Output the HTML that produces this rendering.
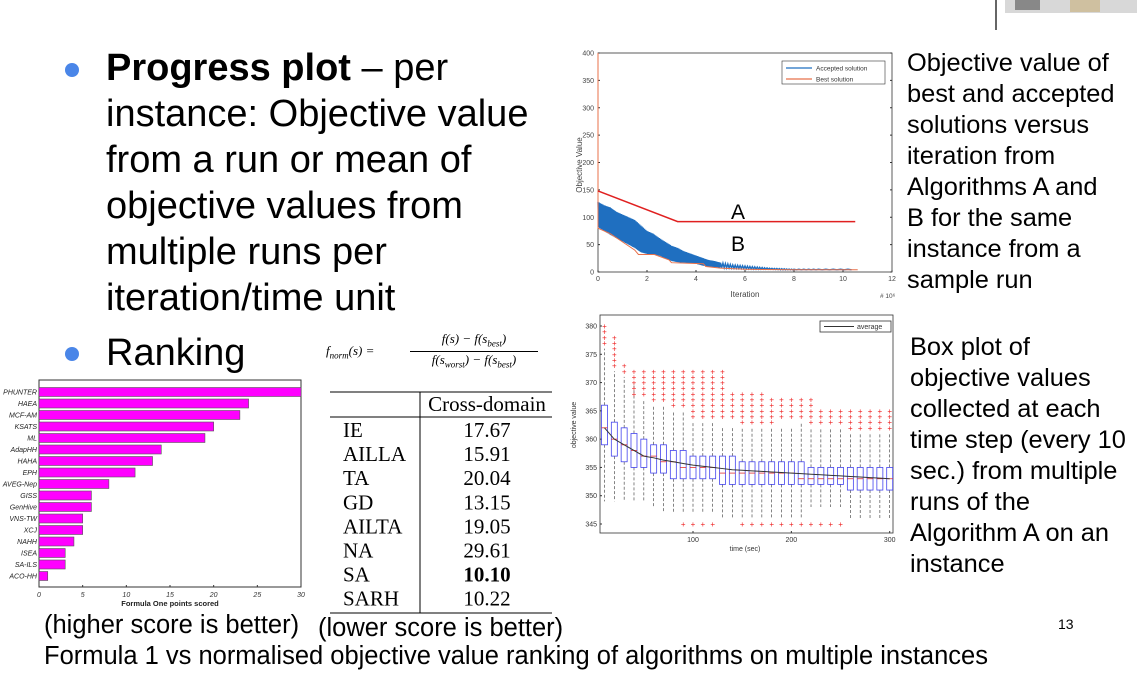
<!DOCTYPE html>
<html><head><meta charset="utf-8">
<style>
body{margin:0;width:1137px;height:681px;background:#fff;overflow:hidden;position:relative;font-family:"Liberation Sans",sans-serif;}
.t{position:absolute;white-space:nowrap;color:#000;}
.big{font-size:38px;line-height:46px;left:106px;}
.rt{font-size:25.4px;line-height:31px;}
svg{position:absolute;left:0;top:0;}
</style></head><body>
<svg width="1137" height="681" id="svg">
  <line x1="996" y1="0" x2="996" y2="30" stroke="#333" stroke-width="1.5"/>
  <rect x="1005" y="0" width="132" height="13" fill="#d8d8d8"/>
  <rect x="1070" y="0" width="30" height="12" fill="#cfc0a0"/>
  <rect x="1015" y="0" width="25" height="10" fill="#888"/>
  <circle cx="72" cy="70" r="7" fill="#4a86e8"/>
  <circle cx="72" cy="354" r="7" fill="#4a86e8"/>
  <g id="bar"></g>
  <g id="prog"></g>
  <g id="box"></g>
  <g id="tbl" font-family="Liberation Serif, serif" font-size="21">
    <line x1="330" y1="392" x2="552" y2="392" stroke="#000"/>
    <line x1="330" y1="417" x2="552" y2="417" stroke="#000"/>
    <line x1="330" y1="613" x2="552" y2="613" stroke="#000"/>
    <line x1="420" y1="392" x2="420" y2="613" stroke="#000"/>
    <text x="487" y="411" text-anchor="middle">Cross-domain</text>
  </g>
</svg>

<div class="t big" style="top:45px"><b>Progress plot</b> – per<br>instance: Objective value<br>from a run or mean of<br>objective values from<br>multiple runs per<br>iteration/time unit</div>
<div class="t big" style="top:330px">Ranking</div>
<div class="t rt" style="left:907px;top:48px">Objective value of<br>best and accepted<br>solutions versus<br>iteration from<br>Algorithms A and<br>B for the same<br>instance from a<br>sample run</div>
<div class="t rt" style="left:910px;top:332px">Box plot of<br>objective values<br>collected at each<br>time step (every 10<br>sec.) from multiple<br>runs of the<br>Algorithm A on an<br>instance</div>
<div class="t" style="left:326px;top:331px;font-family:'Liberation Serif',serif;font-style:italic;font-size:13px">
 <span style="position:absolute;left:0;top:12px">f<sub style="font-size:9px">norm</sub>(s) =</span>
 <span style="position:absolute;left:84px;top:0;width:128px;text-align:center;border-bottom:1px solid #000;padding-bottom:2px">f(s) − f(s<sub style="font-size:9px">best</sub>)</span>
 <span style="position:absolute;left:84px;top:21px;width:128px;text-align:center">f(s<sub style="font-size:9px">worst</sub>) − f(s<sub style="font-size:9px">best</sub>)</span>
</div>
<div class="t" style="left:44px;top:611px;font-size:25.5px">(higher score is better)</div>
<div class="t" style="left:318px;top:614px;font-size:25.5px">(lower score is better)</div>
<div class="t" style="left:44px;top:642px;font-size:25.5px">Formula 1 vs normalised objective value ranking of algorithms on multiple instances</div>
<div class="t" style="left:1058px;top:616px;font-size:14px">13</div>

<script>
const NS="http://www.w3.org/2000/svg";
function mk(p,tag,a,txt){const e=document.createElementNS(NS,tag);for(const k in a)e.setAttribute(k,a[k]);if(txt!=null)e.textContent=txt;p.appendChild(e);return e;}

// ---------- Bar chart ----------
const barCats=["PHUNTER","HAEA","MCF-AM","KSATS","ML","AdapHH","HAHA","EPH","AVEG-Nep","GISS","GenHive","VNS-TW","XCJ","NAHH","ISEA","SA-ILS","ACO-HH"];
const barVals=[30,24,23,20,19,14,13,11,8,6,6,5,5,4,3,3,1];
const barTicks=[0,5,10,15,20,25,30];
(function(){
 const g=document.getElementById('bar');
 const x0=39,x1=301,top=380,bot=587;
 const sx=v=>x0+(x1-x0)*v/30;
 const step=(576-392)/(barCats.length-1);
 mk(g,'rect',{x:x0,y:top,width:x1-x0,height:bot-top,fill:'#fff',stroke:'#333','stroke-width':1});
 barCats.forEach((c,i)=>{
  const cy=392+i*step;
  const r=mk(g,'rect',{x:x0,y:cy-4.5,width:sx(barVals[i])-x0,height:9,fill:'#ff00ff',stroke:'#555','stroke-width':0.6});
  
  
  mk(g,'text',{x:x0-2,y:cy+2.5,'text-anchor':'end','font-size':7,'font-style':'italic',fill:'#222'},c);
 });
 barTicks.forEach(t=>{mk(g,'text',{x:sx(t),y:597,'text-anchor':'middle','font-size':7,'font-style':'italic',fill:'#333'},t);
  mk(g,'line',{x1:sx(t),y1:bot,x2:sx(t),y2:bot-2,stroke:'#333'});});
 mk(g,'text',{x:170,y:606,'text-anchor':'middle','font-size':7.5,'font-weight':'bold',fill:'#222'},'Formula One points scored');
})();

// ---------- Progress plot ----------
const progTicksX=[0,2,4,6,8,10,12];
const progTicksY=[0,50,100,150,200,250,300,350,400];
const accX=[0,0.25,0.5,0.75,1,1.25,1.5,1.75,2,2.25,2.5,2.75,3,3.25,3.5,3.75,4,4.25,4.5,4.75,5,5.5,6,6.5,7,7.5,8,9,10.5];
const accHi=[128,122,118,110,105,100,95,85,75,70,62,55,48,44,38,34,30,26,22,20,17,13,11,9,7,6,5,5,5];
const accLo=[82,75,68,62,56,50,44,36,33,32,30,25,20,18,17,16,15,12,10,9,8,7,6,5,5,4,4,4,4];
const bestX=[0,0,0.5,1,1.5,1.65,2.3,2.9,3.0,4.3,4.4,5.0,6.0,8.0,10.6];
const bestY=[400,80,70,55,40,32,32,22,17,15,10,7,5,4,4];
const aX=[0,3.25,10.5];
const aY=[148,92,92];
(function(){
 const g=document.getElementById('prog');
 const x0=598,x1=892,y0=272,y1=53;
 const sx=v=>x0+(x1-x0)*v/12, sy=v=>y0-(y0-y1)*v/400;
 mk(g,'rect',{x:x0,y:y1,width:x1-x0,height:y0-y1,fill:'#fff',stroke:'#333','stroke-width':0.8});
 progTicksX.forEach(t=>{mk(g,'text',{x:sx(t),y:y0+9,'text-anchor':'middle','font-size':7,fill:'#444'},t);
   mk(g,'line',{x1:sx(t),y1:y0,x2:sx(t),y2:y0-2,stroke:'#333'});});
 progTicksY.forEach(t=>{mk(g,'text',{x:x0-4,y:sy(t)+2.5,'text-anchor':'end','font-size':7,fill:'#444'},t);
   mk(g,'line',{x1:x0,y1:sy(t),x2:x0+2,y2:sy(t),stroke:'#333'});mk(g,'line',{x1:x1,y1:sy(t),x2:x1-2,y2:sy(t),stroke:'#333'});});
 mk(g,'text',{x:745,y:297,'text-anchor':'middle','font-size':8,fill:'#444'},'Iteration');
 mk(g,'text',{x:880,y:298,'font-size':6.5,fill:'#444'},'# 10⁶');
 mk(g,'text',{x:582,y:165,'text-anchor':'middle','font-size':8,fill:'#444',transform:'rotate(-90 582 165)'},'Objective Value');
 let pts=[];
 for(let i=0;i<accX.length-1;i++){
  const n=10;
  for(let k=0;k<n;k++){const f=k/n;const x=accX[i]+(accX[i+1]-accX[i])*f;
   const hi=accHi[i]+(accHi[i+1]-accHi[i])*f, lo=accLo[i]+(accLo[i+1]-accLo[i])*f;
   pts.push(sx(x)+','+sy(k%2?lo:hi));}
 }
 const acc=mk(g,'polyline',{points:pts.join(' '),fill:'none',stroke:'#1f6fc0','stroke-width':1.4});
 
 
 const best=mk(g,'polyline',{points:bestX.map((x,i)=>sx(x)+','+sy(bestY[i])).join(' '),fill:'none',stroke:'#e8704a','stroke-width':1});
 
 
 const a=mk(g,'polyline',{points:aX.map((x,i)=>sx(x)+','+sy(aY[i])).join(' '),fill:'none',stroke:'#e02020','stroke-width':1.5});
 
 
 mk(g,'text',{x:738,y:219,'text-anchor':'middle','font-size':21},'A');
 mk(g,'text',{x:738,y:251,'text-anchor':'middle','font-size':21},'B');
 const lg=mk(g,'g',{});
 
 
 mk(lg,'rect',{x:782,y:61,width:103,height:23,fill:'#fff',stroke:'#333','stroke-width':0.6});
 mk(lg,'line',{x1:786,y1:68,x2:812,y2:68,stroke:'#1f6fc0','stroke-width':1.2});
 mk(lg,'line',{x1:786,y1:79,x2:812,y2:79,stroke:'#e8704a','stroke-width':1.2});
 mk(lg,'text',{x:816,y:70.5,'font-size':6.5,fill:'#333'},'Accepted solution');
 mk(lg,'text',{x:816,y:81.5,'font-size':6.5,fill:'#333'},'Best solution');
})();

// ---------- Box plot ----------
const boxT=[10,20,30,40,50,60,70,80,90,100,110,120,130,140,150,160,170,180,190,200,210,220,230,240,250,260,270,280,290,300];
const boxQ1=[359,357,356,355,355,354,354,353,353,353,353,353,352,352,352,352,352,352,352,352,352,352,352,352,352,351,351,351,351,351];
const boxQ3=[366,363,362,361,360,359,359,358,358,357,357,357,357,357,356,356,356,356,356,356,356,355,355,355,355,355,355,355,355,355];
const boxMed=[362,360,359,358,357,357,356,356,355,355,355,355,354,354,354,354,354,354,354,354,353,353,353,353,353,353,353,353,353,353];
const whLo=[349,349,349,349,349,348,347,347,347,347,347,347,346,346,346,346,346,346,346,346,346,348,348,348,348,346,346,346,346,346];
const whHi=[376,372,371,370,367,366,366,365,365,363,363,363,362,362,362,362,362,362,362,362,363,362,362,362,362,361,361,361,361,361];
const outHiMin=[377,373,372,368,368,367,367,366,366,364,364,364,364,364,363,363,363,363,364,364,364,363,363,363,363,362,362,362,362,362];
const outHiMax=[380,378,373,372,372,372,372,372,372,372,372,372,372,368,368,368,368,367,367,367,367,367,365,365,365,365,365,365,365,365];
const outLo=[0,0,0,0,0,0,0,0,345,345,345,345,0,0,345,345,345,345,345,345,345,345,345,345,345,0,0,0,0,0];
const avgVals=[362,360,359,358,357,356.7,356.3,356,355.7,355.4,355.2,355,354.8,354.6,354.5,354.4,354.3,354.2,354.1,354,353.9,353.8,353.7,353.6,353.5,353.4,353.3,353.2,353.1,353];
const boxTicksX=[100,200,300];
const boxTicksY=[345,350,355,360,365,370,375,380];
(function(){
 const g=document.getElementById('box');
 const L=600,R=893,T=315,B=533;
 const sx=v=>693+(v-100)*0.9835, sy=v=>326+(380-v)*(524-326)/35;
 mk(g,'rect',{x:L,y:T,width:R-L,height:B-T,fill:'#fff',stroke:'#333','stroke-width':0.8});
 boxTicksX.forEach(t=>{mk(g,'text',{x:sx(t),y:B+9,'text-anchor':'middle','font-size':7,fill:'#333'},t);
  mk(g,'line',{x1:sx(t),y1:B,x2:sx(t),y2:B-2,stroke:'#333'});});
 boxTicksY.forEach(t=>{mk(g,'text',{x:L-3,y:sy(t)+2.5,'text-anchor':'end','font-size':7,fill:'#333'},t);
  mk(g,'line',{x1:L,y1:sy(t),x2:L+2,y2:sy(t),stroke:'#333'});});
 mk(g,'text',{x:745,y:551,'text-anchor':'middle','font-size':7,fill:'#333'},'time (sec)');
 mk(g,'text',{x:576,y:425,'text-anchor':'middle','font-size':7,fill:'#333',transform:'rotate(-90 576 425)'},'objective value');
 const w=3;
 boxT.forEach((t,i)=>{
  const x=sx(t);
  const bg=mk(g,'g',{});
  
  
  mk(bg,'line',{x1:x,y1:sy(boxQ3[i]),x2:x,y2:sy(whHi[i]),stroke:'#333','stroke-width':0.6,'stroke-dasharray':'3,2'});
  mk(bg,'line',{x1:x,y1:sy(boxQ1[i]),x2:x,y2:sy(whLo[i]),stroke:'#333','stroke-width':0.6,'stroke-dasharray':'3,2'});
  mk(bg,'rect',{x:x-w,y:sy(boxQ3[i]),width:2*w,height:sy(boxQ1[i])-sy(boxQ3[i]),fill:'none',stroke:'#4444ee','stroke-width':0.8});
  mk(bg,'line',{x1:x-w,y1:sy(boxMed[i]),x2:x+w,y2:sy(boxMed[i]),stroke:'#e03030','stroke-width':0.8});
  for(let v=outHiMin[i];v<=outHiMax[i];v++){
   mk(bg,'text',{x:x,y:sy(v)+3,'text-anchor':'middle','font-size':8,fill:'#ee2222'},'+');
  }
  if(outLo[i]) mk(bg,'text',{x:x,y:sy(outLo[i])+3,'text-anchor':'middle','font-size':8,fill:'#ee2222'},'+');
 });
 const av=mk(g,'polyline',{points:boxT.map((t,i)=>sx(t)+','+sy(avgVals[i])).join(' '),fill:'none',stroke:'#333','stroke-width':1});
 
 
 const lg=mk(g,'g',{});
 
 
 mk(lg,'rect',{x:820,y:321,width:71,height:11,fill:'#fff',stroke:'#333','stroke-width':0.8});
 mk(lg,'line',{x1:824,y1:326.5,x2:854,y2:326.5,stroke:'#333','stroke-width':1});
 mk(lg,'text',{x:857,y:329,'font-size':7,fill:'#333'},'average');
})();

// ---------- Table ----------
const tblNames=["IE","AILLA","TA","GD","AILTA","NA","SA","SARH"];
const tblVals=["17.67","15.91","20.04","13.15","19.05","29.61","10.10","10.22"];
(function(){
 const g=document.getElementById('tbl');
 tblNames.forEach((n,i)=>{
  const y=437+i*24.1;
  const a=mk(g,'text',{x:343,y:y},n);
  
  
  const b=mk(g,'text',{x:487,y:y,'text-anchor':'middle','font-weight':n==='SA'?'bold':'normal'},tblVals[i]);
  
  
 });
})();
</script>
</body></html>
